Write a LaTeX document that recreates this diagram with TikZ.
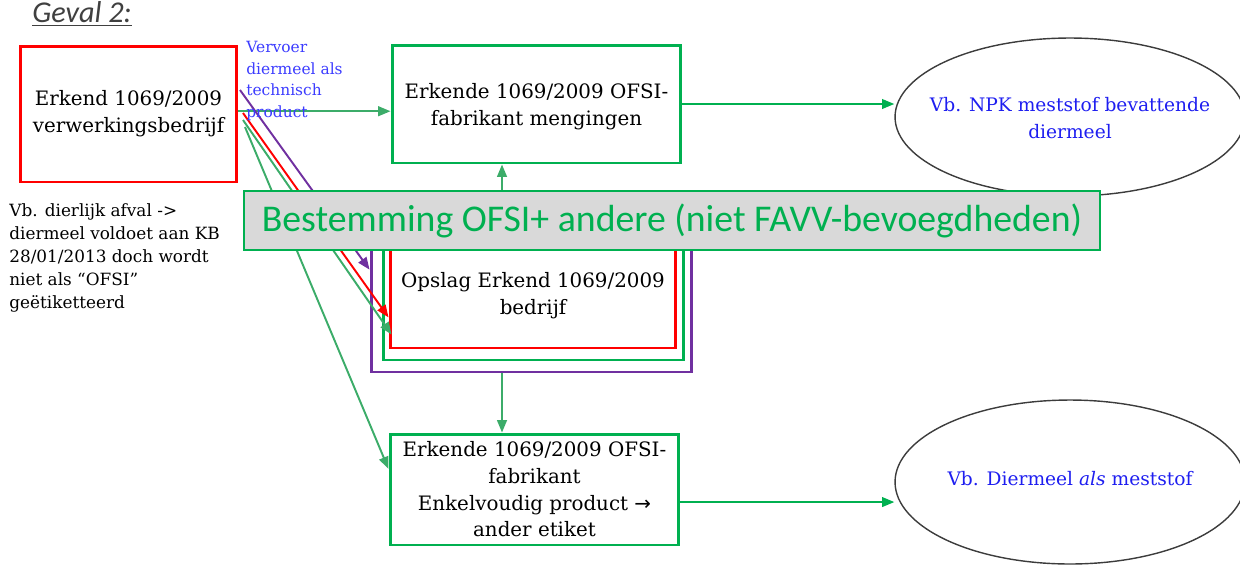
\documentclass[tikz,border=0pt]{standalone}
\usepackage{fontspec}
\setmainfont{DejaVu Serif}
\newfontfamily\calibri{Carlito}
\newfontfamily\symfont{DejaVu Sans}
\usetikzlibrary{arrows.meta,shapes.geometric,calc}
\definecolor{ogreen}{RGB}{0,176,80}
\definecolor{cgreen}{RGB}{60,172,105}
\definecolor{opurple}{RGB}{112,48,160}
\definecolor{ored}{RGB}{255,0,0}
\definecolor{oblue}{RGB}{30,30,240}
\definecolor{lblue}{RGB}{60,60,255}
\definecolor{bgray}{RGB}{217,217,217}
\definecolor{tgray}{RGB}{64,64,64}
\definecolor{egray}{RGB}{60,60,60}
\begin{document}
\begin{tikzpicture}[x=0.02cm,y=-0.02cm,
  box/.style={draw, line width=1.7pt, fill=white, align=center, inner sep=0pt,
    font=\fontsize{11.3}{15.2}\selectfont},
  conn/.style={draw=cgreen, line width=1.1pt, -{Triangle[length=7pt,width=5.5pt]}},
  bconn/.style={conn, draw=ogreen},
  oval/.style={ellipse, draw=egray, line width=0.8pt, minimum width=7cm, inner sep=0pt},
  ovaltext/.style={align=center, inner sep=0pt, text=oblue, font=\fontsize{10.6}{15}\selectfont},
  plain/.style={align=left, inner sep=0pt, anchor=north west}
]
\useasboundingbox (0,0) rectangle (1240,566);

% title
\node[plain, text=tgray, font=\calibri\itshape\fontsize{17.2}{20}\selectfont] (title) at (32,1) {\underline{Geval 2:}};

% boxes
\node[box, draw=ored, minimum width=4.34cm, minimum height=2.72cm] (src) at (128.5,114)
  {Erkend 1069/2009\\verwerkingsbedrijf};
\node[box, draw=ogreen, minimum width=5.78cm, minimum height=2.36cm] (mix) at (536.5,104)
  {};
\node[box, draw=none, fill=none] (mixtext) at (536.5,107) {Erkende 1069/2009 OFSI-\\fabrikant mengingen};
\node[box, draw=opurple, minimum width=6.42cm, minimum height=3.04cm] (storeP) at (531.5,296) {};
\node[box, draw=ogreen, minimum width=6.02cm, minimum height=2.56cm] (storeG) at (533.5,296) {};
\node[box, draw=ored, minimum width=5.72cm, minimum height=2.08cm] (store) at (533,296)
  {Opslag Erkend 1069/2009\\bedrijf};
\node[box, draw=ogreen, minimum width=5.78cm, minimum height=2.22cm] (single) at (534.5,489.5)
  {Erkende 1069/2009 OFSI-\\fabrikant\\Enkelvoudig product {\symfont →}\\ander etiket};

% ellipses
\node[oval, minimum height=3.16cm] (npk) at (1070,117) {};
\node[ovaltext] (npktext) at (1070,118) {Vb. NPK meststof bevattende\\diermeel};
\node[oval, minimum height=3.28cm] (dm) at (1070,482) {};
\node[ovaltext] (dmtext) at (1070,479) {Vb. Diermeel \textit{als} meststof};

% left note
\node[plain, font=\fontsize{9.6}{13.1}\selectfont] (note) at (9,203)
  {Vb. dierlijk afval ->\\diermeel voldoet aan KB\\28/01/2013 doch wordt\\niet als “OFSI”\\geëtiketteerd};

% connectors
\coordinate (vx) at (502,0);
\coordinate (sP) at (240,90);
\coordinate (sR) at (243,113);
\coordinate (sG) at (243,120);
\coordinate (sL) at (245,127);
\coordinate (sM) at ($(src.north east)!0.48!(src.south east)$);
\draw[conn] (sM) -- (sM -| mix.west);
\draw[conn, draw=opurple] (sP) -- ($(storeP.north west)!0.33!(storeP.south west)$);
\draw[conn, draw=ored] (sR) -- ($(store.north west)!0.70!(store.south west)$);
\draw[conn] (sG) -- ($(store.north west)!0.86!(store.south west)+(3,0)$);
\draw[conn] (sL) -- ($(single.north west)!0.32!(single.south west)$);
\draw[conn] (storeP.north -| vx) -- (mix.south -| vx);
\draw[conn] (storeP.south -| vx) -- (single.north -| vx);
\draw[bconn] (mix.east) -- (mix.east -| npk.west);
\coordinate (sB) at ($(single.north east)!0.61!(single.south east)$);
\draw[bconn] (sB) -- (sB -| dm.west);

% blue label
\node[plain, text=lblue, font=\fontsize{8.8}{12.3}\selectfont] (lab) at (246,41)
  {Vervoer\\diermeel als\\technisch\\product};

% banner
\node[draw=ogreen, line width=0.9pt, fill=bgray, text=ogreen, inner sep=0pt,
  minimum width=17.12cm, minimum height=1.18cm,
  font=\calibri\fontsize{21.5}{26}\selectfont] (banner) at (672,220.5)
  {Bestemming OFSI+ andere (niet FAVV-bevoegdheden)};
\end{tikzpicture}
\end{document}
